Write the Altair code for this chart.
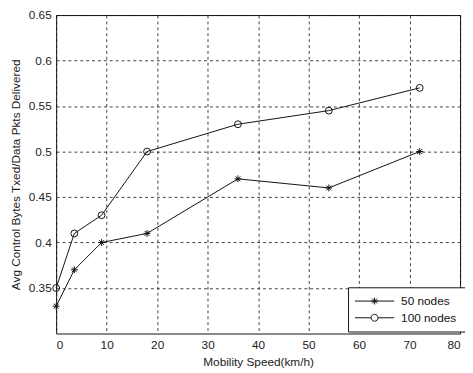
import altair as alt
import pandas as pd

speed = [0, 3.6, 9, 18, 36, 54, 72]
nodes50 = [0.33, 0.37, 0.40, 0.41, 0.47, 0.46, 0.50]
nodes100 = [0.35, 0.41, 0.43, 0.50, 0.53, 0.545, 0.57]
series = ["50 nodes", "100 nodes"]

rows = []
for s, v in zip(speed, nodes50):
    rows.append({"speed": s, "value": v, "series": series[0]})
for s, v in zip(speed, nodes100):
    rows.append({"speed": s, "value": v, "series": series[1]})
df = pd.DataFrame(rows)

star = "M-1,0L1,0M0,-1L0,1M-0.7,-0.7L0.7,0.7M-0.7,0.7L0.7,-0.7"
circ = "circle"

leg_star = "M-5.7,0L5.7,0M-1,0L1,0M0,-1L0,1M-0.7,-0.7L0.7,0.7M-0.7,0.7L0.7,-0.7"
leg_circ = "M-5.7,0L-1,0M1,0L5.7,0M-1,0A1,1 0 1,0 1,0A1,1 0 1,0 -1,0"

FONT = "Liberation Sans"

x = alt.X("speed:Q", scale=alt.Scale(domain=[0, 80], nice=False),
          axis=alt.Axis(values=list(range(0, 81, 10)), title="Mobility Speed(km/h)"))
y = alt.Y("value:Q", scale=alt.Scale(domain=[0.3, 0.65], nice=False, zero=False),
          axis=alt.Axis(values=[0.35, 0.4, 0.45, 0.5, 0.55, 0.6, 0.65], format="~g",
                        title="Avg Control Bytes Txed/Data Pkts Delivered"))

lines = alt.Chart(df).mark_line(color="#111", strokeWidth=1).encode(
    x=x, y=y, detail="series:N")

points = alt.Chart(df).mark_point(color="#111", filled=False, strokeWidth=1, size=49, opacity=1).encode(
    x=x, y=y,
    shape=alt.Shape("series:N", scale=alt.Scale(domain=series, range=[star, circ]), legend=None))

legend_layer = alt.Chart(df).mark_point(color="#111", filled=False, strokeWidth=1, size=49,
                                        opacity=0).encode(
    x=x, y=y,
    shape=alt.Shape("series:N", scale=alt.Scale(domain=series, range=[leg_star, leg_circ]),
                    legend=alt.Legend(
                        title=None, orient="none", legendX=297, legendY=277,
                        strokeColor="#111", fillColor="white", padding=8,
                        symbolSize=49, symbolStrokeColor="#111", symbolStrokeWidth=1,
                        symbolFillColor="transparent", symbolOpacity=1,
                        symbolOffset=13,
                        labelFont=FONT, labelFontSize=12, labelColor="#111",
                        labelOffset=21, rowPadding=5,
                    )))

chart = alt.layer(lines, points, legend_layer).resolve_scale(shape="independent").properties(
    width=411, height=324,
    autosize=alt.AutoSizeParams(type="none"),
    padding={"left": 49, "top": 4, "right": 5, "bottom": 37},
    background="white",
).configure_view(stroke="#111", strokeWidth=1).configure_axis(
    grid=True, gridColor="#111", gridDash=[3, 3], gridWidth=0.8, gridOpacity=1,
    domain=False, ticks=False,
    labelFont=FONT, labelFontSize=12, labelColor="#222",
    titleFont=FONT, titleFontSize=12, titleColor="#222", titleFontWeight="normal",
).configure_axisY(titlePadding=6, labelPadding=5).configure_axisX(titlePadding=7, labelPadding=6)

chart.save("out.html", embed_options={"renderer": "svg", "actions": False})
